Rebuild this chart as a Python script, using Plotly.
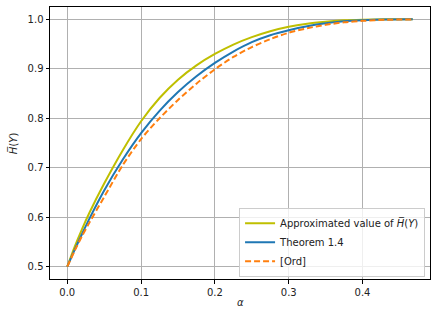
import plotly.graph_objects as go

alpha = [0.0, 0.01, 0.02, 0.03, 0.05, 0.075, 0.1, 0.125, 0.15, 0.175, 0.2,
         0.225, 0.25, 0.275, 0.3, 0.325, 0.35, 0.375, 0.4, 0.43, 0.468]

approx_values = [0.5, 0.540, 0.576, 0.609, 0.668, 0.735, 0.794, 0.841, 0.878, 0.907, 0.930,
                 0.949, 0.964, 0.976, 0.985, 0.991, 0.995, 0.998, 0.9993, 1.0, 1.0]

theorem_values = [0.5, 0.534, 0.566, 0.597, 0.654, 0.716, 0.770, 0.815, 0.853, 0.885, 0.912,
                  0.935, 0.954, 0.968, 0.978, 0.986, 0.992, 0.996, 0.998, 0.9995, 1.0]

ord_values = [0.5, 0.532, 0.562, 0.589, 0.641, 0.705, 0.758, 0.800, 0.837, 0.870, 0.899,
              0.924, 0.944, 0.960, 0.973, 0.982, 0.989, 0.994, 0.997, 0.999, 1.0]

series_names = ["Approximated value of <i>H̅</i>(<i>Y</i>)", "Theorem 1.4", "[Ord]"]
x_title = "<i>α</i>"
y_title = "<i>H̅</i>(<i>Y</i>)"

x_ticks = [0.0, 0.1, 0.2, 0.3, 0.4]
y_ticks = [0.5, 0.6, 0.7, 0.8, 0.9, 1.0]

fig = go.Figure()
fig.add_trace(go.Scatter(x=alpha, y=approx_values, mode="lines", name=series_names[0],
                         line=dict(color="#bfbf00", width=2, shape="spline", smoothing=0.8)))
fig.add_trace(go.Scatter(x=alpha, y=theorem_values, mode="lines", name=series_names[1],
                         line=dict(color="#1f77b4", width=2, shape="spline", smoothing=0.8)))
fig.add_trace(go.Scatter(x=alpha, y=ord_values, mode="lines", name=series_names[2],
                         line=dict(color="#ff7f0e", width=2, dash="6px,3px", shape="spline", smoothing=0.8)))

axis_common = dict(
    showline=True, mirror=True, linecolor="black", linewidth=1,
    showgrid=True, gridcolor="#b0b0b0", gridwidth=1,
    ticks="outside", ticklen=3.5, tickcolor="black", tickwidth=1,
    zeroline=False, tickformat=".1f", automargin=False,
    tickfont=dict(family="DejaVu Sans", size=10, color="#222"),
)

fig.update_layout(
    width=437, height=317,
    margin=dict(l=50, r=7, t=7, b=38),
    paper_bgcolor="white", plot_bgcolor="white",
    font=dict(family="DejaVu Sans", size=10, color="#222"),
    xaxis=dict(range=[-0.0234, 0.4914], tickvals=x_ticks, **axis_common),
    yaxis=dict(range=[0.475, 1.025], tickvals=y_ticks, **axis_common),
    legend=dict(x=0.987, y=0.008, xanchor="right", yanchor="bottom",
                bgcolor="rgba(255,255,255,0.8)", bordercolor="#cccccc", borderwidth=1,
                font=dict(size=10, family="DejaVu Sans", color="#222"),
                itemwidth=30, tracegroupgap=0),
    showlegend=True,
    annotations=[
        dict(text=x_title, xref="paper", yref="paper", x=0.5, y=-0.088,
             xanchor="center", yanchor="middle", showarrow=False,
             font=dict(size=10, color="#222")),
        dict(text=y_title, xref="paper", yref="paper", x=-0.097, y=0.5,
             xanchor="center", yanchor="middle", showarrow=False, textangle=-90,
             font=dict(size=10, color="#222")),
    ],
)

fig.write_html("out.html", config={"displayModeBar": False},
               post_script="document.body.style.margin='0';document.body.style.overflow='hidden';")
